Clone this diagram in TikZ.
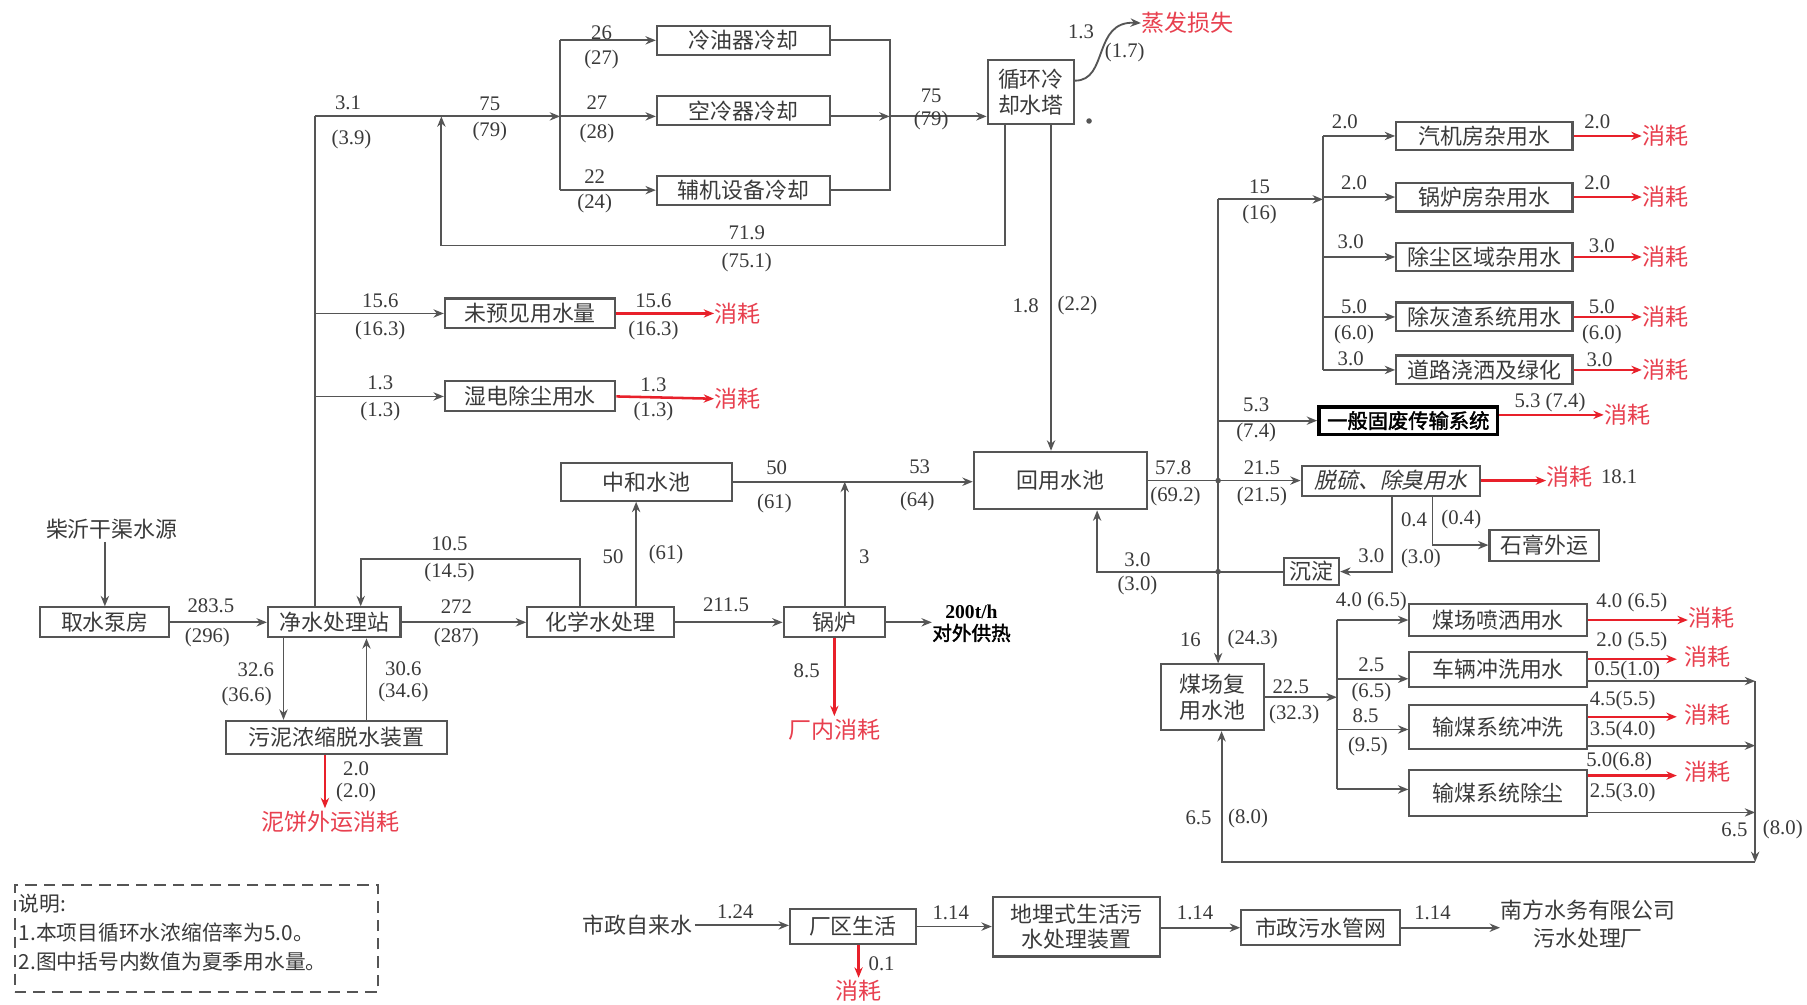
\documentclass[tikz,border=0pt]{standalone}
\usepackage{fontspec}
\setmainfont{Noto Sans CJK SC}
\newfontfamily\numf{Liberation Serif}
\newfontfamily\cjkit[FakeSlant=0.22]{Noto Sans CJK SC}
\newfontfamily\cjkbf[FakeBold=2]{Noto Sans CJK SC}
\usetikzlibrary{arrows.meta}
\definecolor{lncol}{HTML}{555555}
\definecolor{txcol}{HTML}{3A3A3A}
\definecolor{rdcol}{HTML}{E8202A}
\definecolor{rdtx}{HTML}{E8404F}
\newcounter{lbc}
\newcommand\lbl[2]{\stepcounter{lbc}\node[lab] (lb\thelbc) at (#1) {#2};}
\newcommand\bx[6][]{\node[box,minimum width=#4*0.5pt,minimum height=#5*0.5pt,#1] (#2) at (#3) {#6};}
\newcommand\xh[2]{\node[xhs] (#1) at (#2) {消耗};}
\begin{document}
\begin{tikzpicture}[x=0.5pt,y=-0.5pt,
  box/.style={draw=lncol,line width=0.9pt,text=txcol,font=\fontsize{9.5}{11}\selectfont,inner sep=0pt,align=center},
  lab/.style={text=txcol,font=\numf\fontsize{9}{9}\selectfont,inner sep=0pt},
  xhs/.style={text=rdtx,font=\fontsize{10}{11}\selectfont,inner sep=0pt},
  plain/.style={draw=lncol,line width=0.8pt},
  arr/.style={draw=lncol,line width=0.8pt,-{Stealth[length=4.5pt,width=3.6pt]}},
  rarr/.style={draw=rdcol,line width=1.1pt,-{Stealth[length=4.5pt,width=3.6pt]}},
  jdot/.style={circle,fill=lncol,inner sep=0pt,minimum size=2.4pt}]
\path[fill=white] (0,0) rectangle (1568,872);
\useasboundingbox (0,0) rectangle (1568,872);

% ---------- boxes ----------
\bx{cool1}{645,35}{150}{25}{冷油器冷却}
\bx{cool2}{645,96}{150}{25}{空冷器冷却}
\bx{cool3}{645,165}{150}{25}{辅机设备冷却}
\bx{tower}{894.5,80}{75}{56}{循环冷\\却水塔}
\bx{unf}{460,272}{148}{26}{未预见用水量}
\bx{wet}{460,344}{148}{26}{湿电除尘用水}
\bx{pump}{91,540}{112}{26}{取水泵房}
\bx{purif}{290,540}{115}{26}{净水处理站}
\bx{chem}{521,540}{127}{26}{化学水处理}
\bx{neut}{561,418}{148}{33}{中和水池}
\bx{boiler}{724,540}{88}{26}{锅炉}
\bx{sludge}{292,640}{192}{29}{污泥浓缩脱水装置}
\bx{reuse}{920,417}{150}{50}{回用水池}
\bx{r1}{1288,118}{153}{25}{汽机房杂用水}
\bx{r2}{1288,171}{153}{25}{锅炉房杂用水}
\bx{r3}{1288,223}{153}{25}{除尘区域杂用水}
\bx{r4}{1288,275}{153}{25}{除灰渣系统用水}
\bx{r5}{1288,321}{153}{25}{道路浇洒及绿化}
\bx[draw=black,line width=1.6pt,text=black,font=\cjkbf\fontsize{8.8}{10}\selectfont]{solid}{1222,365}{155}{24}{一般固废传输系统}
\bx[font=\cjkit\fontsize{9.5}{11}\selectfont]{desulf}{1207,417}{155}{26}{脱硫、除臭用水}
\bx{gyp}{1340,473}{95}{27}{石膏外运}
\bx{settle}{1138,496}{48}{24}{沉淀}
\bx{coal}{1052,605}{89}{57}{煤场复\\用水池}
\bx{c1}{1300,538}{154}{27}{煤场喷洒用水}
\bx{c2}{1300,581}{154}{31}{车辆冲洗用水}
\bx{c3}{1300,631}{154}{38}{输煤系统冲洗}
\bx{c4}{1300,688}{154}{40}{输煤系统除尘}
\bx{life}{740,804}{109}{31}{厂区生活}
\bx{buried}{934,804}{145}{52}{地埋式生活污\\水处理装置}
\bx{muni}{1146,805}{138}{30}{市政污水管网}

% ---------- free texts ----------
\node[text=txcol,font=\fontsize{9.5}{11}\selectfont,inner sep=1pt] (src) at (97,459) {柴沂干渠水源};
\node[text=black,align=center,inner sep=0pt,font=\fontsize{8.5}{9.5}\selectfont] (heat) at (843,541) {{\numf\bfseries 200t/h}\\{\cjkbf 对外供热}};
\node[text=rdtx,font=\fontsize{10}{11}\selectfont,anchor=west,inner sep=0pt] (evapt) at (990,20) {蒸发损失};
\node[text=rdtx,font=\fontsize{10}{11}\selectfont,inner sep=1pt] (bloss) at (724,633) {厂内消耗};
\node[text=rdtx,font=\fontsize{10}{11}\selectfont,inner sep=1pt] (sloss) at (287,713) {泥饼外运消耗};
\node[text=txcol,font=\fontsize{9.5}{11}\selectfont,inner sep=1pt] (tap) at (553,803) {市政自来水};
\node[text=txcol,font=\fontsize{9.5}{12}\selectfont,align=center,inner sep=0pt] (nf) at (1378,802) {南方水务有限公司\\污水处理厂};
\node[text=rdtx,font=\fontsize{10}{11}\selectfont,inner sep=1pt] (lloss) at (745,860) {消耗};
\xh{x1}{640,272}
\xh{x2}{640,346}
\xh{xr1}{1445,118}
\xh{xr2}{1445,171}
\xh{xr3}{1445,223}
\xh{xr4}{1445,275}
\xh{xr5}{1445,321}
\xh{xs}{1412,360}
\xh{xd}{1362,414}
\xh{xc1}{1485,536}
\xh{xc2}{1482,570}
\xh{xc3}{1482,620}
\xh{xc4}{1482,670}
\node[jdot] (dot) at (945,105) {};

% ---------- cooling circuit ----------
\coordinate (jtop) at (273,101);
\coordinate (bL) at (486,101);
\coordinate (bR) at (772,101);
\draw[plain] (purif.north -| jtop) -- (jtop);
\draw[arr] (jtop) -- (bL);
\draw[plain] (bL |- cool1.west) -- (bL |- cool3.west);
\draw[arr] (bL |- cool1.west) -- (cool1.west);
\draw[arr] (bL) -- (cool2.west |- bL);
\draw[arr] (bL |- cool3.west) -- (cool3.west);
\draw[plain] (cool1.east) -- (cool1.east -| bR) -- (cool3.east -| bR) -- (cool3.east);
\draw[arr] (cool2.east |- bR) -- (bR);
\draw[arr] (bR) -- (tower.west |- bR);
\draw[arr] ([yshift=5pt]tower.east) .. controls (962,70) and (948,18) .. (evapt.west);
\coordinate (rt1) at (872,213);
\coordinate (rt2) at (383,213);
\draw[arr] (tower.south -| rt1) -- (rt1) -- (rt2) -- (rt2 |- jtop);
\coordinate (x18) at (912,300);
\draw[arr] (tower.south -| x18) -- (reuse.north -| x18);
\draw[arr] (unf.west -| jtop) -- (unf.west);
\draw[arr] (wet.west -| jtop) -- (wet.west);
\draw[rarr] (unf.east) -- (x1.west);
\draw[rarr] (wet.east) -- (x2.west);

% ---------- main treatment line ----------
\draw[arr] (src.south -| pump.north) -- (pump.north);
\draw[arr] (pump.east) -- (purif.west);
\draw[arr] (purif.east) -- (chem.west);
\draw[arr] (chem.east) -- (boiler.west);
\draw[arr] (boiler.east) -- (heat.west |- boiler.east);
\coordinate (x552) at (552,480);
\draw[arr] (chem.north -| x552) -- (neut.south -| x552);
\coordinate (k1) at (503,485);
\coordinate (k2) at (313,485);
\draw[arr] (chem.north -| k1) -- (k1) -- (k2) -- (purif.north -| k2);
\draw[arr] (neut.east) -- (reuse.west |- neut.east);
\coordinate (x733) at (733,418);
\draw[arr] (boiler.north -| x733) -- (x733);
\draw[rarr] (boiler.south) -- (bloss.north);
\coordinate (x246) at (246,590);
\coordinate (x318) at (318,590);
\coordinate (x282) at (282,680);
\draw[arr] (purif.south -| x246) -- (sludge.north -| x246);
\draw[arr] (sludge.north -| x318) -- (purif.south -| x318);
\draw[rarr] (sludge.south -| x282) -- (sloss.north -| x282);

% ---------- reuse distribution ----------
\coordinate (jr) at (1057,417);
\coordinate (jv) at (1057,173);
\coordinate (b15) at (1148,173);
\draw[plain] (reuse.east |- jr) -- (jr);
\draw[arr] (jr) -- (desulf.west |- jr);
\draw[arr] (jv) -- (coal.north -| jv);
\draw[arr] (jv) -- (b15);
\draw[plain] (b15 |- r1.west) -- (b15 |- r5.west);
\foreach \k in {1,...,5}{
  \draw[arr] (b15 |- r\k.west) -- (r\k.west);
  \draw[rarr] (r\k.east) -- (xr\k.west);
}
\draw[arr] (solid.west -| jv) -- (solid.west);
\draw[rarr] (solid.east |- xs.west) -- (xs.west);
\draw[rarr] (desulf.east) -- (desulf.east -| xd.west);
\coordinate (d1) at (1208,496);
\coordinate (d2) at (1243,473);
\draw[arr] (desulf.south -| d1) -- (d1) -- (settle.east |- d1);
\draw[arr] (desulf.south -| d2) -- (d2) -- (gyp.west |- d2);
\coordinate (s1) at (952,496);
\draw[arr] (settle.west) -- (s1) -- (reuse.south -| s1);
\node[jdot] (jd1) at (jr) {};
\node[jdot] (jd2) at (1057,496) {};

% ---------- coal yard ----------
\coordinate (cb) at (1160,605);
\coordinate (cb2) at (1160,589);
\coordinate (cb3) at (1160,633);
\coordinate (cb4) at (1160,685);
\draw[arr] (coal.east |- cb) -- (cb);
\draw[plain] (cb |- c1.west) -- (cb4);
\draw[arr] (cb |- c1.west) -- (c1.west);
\draw[arr] (cb2) -- (c2.west |- cb2);
\draw[arr] (cb3) -- (c3.west |- cb3);
\draw[arr] (cb4) -- (c4.west |- cb4);
\draw[rarr] (c1.east) -- (c1.east -| xc1.west);
\coordinate (e2r) at (1455,572);
\coordinate (e3r) at (1455,622);
\coordinate (e4r) at (1455,673);
\draw[rarr] (c2.east |- e2r) -- (e2r);
\draw[rarr] (c3.east |- e3r) -- (e3r);
\draw[rarr] (c4.east |- e4r) -- (e4r);
\coordinate (e2b) at (1523,591);
\coordinate (e3b) at (1523,647);
\coordinate (e4b) at (1523,705);
\draw[arr] (c2.east |- e2b) -- (e2b);
\draw[arr] (c3.east |- e3b) -- (e3b);
\draw[arr] (c4.east |- e4b) -- (e4b);
\coordinate (eB) at (1523,748);
\coordinate (eL) at (1060,748);
\draw[arr] (e2b) -- (eB);
\draw[arr] (eB) -- (eL) -- (coal.south -| eL);

% ---------- domestic line ----------
\draw[arr] (tap.east) -- (life.west |- tap.east);
\draw[arr] (life.east) -- (buried.west |- life.east);
\draw[arr] (buried.east |- muni.west) -- (muni.west);
\draw[arr] (muni.east) -- (nf.west |- muni.east);
\draw[rarr] (life.south -| lloss.north) -- (lloss.north);

% ---------- note ----------
\node[draw=lncol,dashed,line width=0.9pt,dash pattern=on 5pt off 3pt,minimum width=315*0.5pt,minimum height=93*0.5pt,anchor=north west,inner sep=0pt] (note) at (12,767) {};
\node[anchor=north west,align=left,text=txcol,font=\fontsize{9}{12.6}\selectfont,inner sep=0pt] (notet) at (16,775) {说明:\\1.本项目循环水浓缩倍率为5.0。\\2.图中括号内数值为夏季用水量。};

% ---------- labels ----------
\lbl{522,28}{26} \lbl{522,52}{(27)}
\lbl{518,89}{27} \lbl{518,116}{(28)}
\lbl{516,153}{22} \lbl{516,177}{(24)}
\lbl{302,89}{3.1} \lbl{305,121}{(3.9)}
\lbl{425,90}{75} \lbl{425,114}{(79)}
\lbl{808,83}{75} \lbl{808,105}{(79)}
\lbl{938,28}{1.3} \lbl{976,46}{(1.7)}
\lbl{648,202}{71.9} \lbl{648,228}{(75.1)}
\lbl{890,265}{1.8} \lbl{935,265}{(2.2)}
\lbl{330,261}{15.6} \lbl{330,287}{(16.3)}
\lbl{567,261}{15.6} \lbl{567,287}{(16.3)}
\lbl{330,332}{1.3} \lbl{330,357}{(1.3)}
\lbl{567,334}{1.3} \lbl{567,357}{(1.3)}
\lbl{390,472}{10.5} \lbl{390,497}{(14.5)}
\lbl{532,483}{50} \lbl{578,481}{(61)}
\lbl{674,406}{50} \lbl{672,437}{(61)}
\lbl{798,405}{53} \lbl{796,435}{(64)}
\lbl{750,483}{3}
\lbl{183,526}{283.5} \lbl{180,553}{(296)}
\lbl{396,526}{272} \lbl{396,553}{(287)}
\lbl{630,525}{211.5}
\lbl{700,582}{8.5}
\lbl{222,581}{32.6} \lbl{214,604}{(36.6)}
\lbl{350,580}{30.6} \lbl{350,601}{(34.6)}
\lbl{309,667}{2.0} \lbl{309,688}{(2.0)}
\lbl{987,486}{3.0} \lbl{987,508}{(3.0)}
\lbl{1018,406}{57.8} \lbl{1020,431}{(69.2)}
\lbl{1093,162}{15} \lbl{1093,186}{(16)}
\lbl{1167,106}{2.0} \lbl{1175,159}{2.0} \lbl{1172,210}{3.0} \lbl{1175,266}{5.0} \lbl{1175,290}{(6.0)} \lbl{1172,311}{3.0}
\lbl{1386,106}{2.0} \lbl{1386,159}{2.0} \lbl{1390,213}{3.0} \lbl{1390,266}{5.0} \lbl{1390,290}{(6.0)} \lbl{1388,312}{3.0}
\lbl{1090,351}{5.3} \lbl{1090,375}{(7.4)} \lbl{1345,349}{5.3 (7.4)}
\lbl{1095,406}{21.5} \lbl{1095,431}{(21.5)} \lbl{1405,414}{18.1}
\lbl{1227,451}{0.4} \lbl{1268,451}{(0.4)}
\lbl{1190,482}{3.0} \lbl{1233,485}{(3.0)}
\lbl{1033,555}{16} \lbl{1087,555}{(24.3)}
\lbl{1120,596}{22.5} \lbl{1123,620}{(32.3)}
\lbl{1190,522}{4.0 (6.5)}
\lbl{1190,577}{2.5} \lbl{1190,601}{(6.5)}
\lbl{1185,621}{8.5} \lbl{1187,648}{(9.5)}
\lbl{1416,523}{4.0 (6.5)} \lbl{1416,557}{2.0 (5.5)} \lbl{1412,582}{0.5(1.0)}
\lbl{1408,608}{4.5(5.5)} \lbl{1408,634}{3.5(4.0)}
\lbl{1405,661}{5.0(6.8)} \lbl{1408,688}{2.5(3.0)}
\lbl{1505,720}{6.5} \lbl{1547,720}{(8.0)}
\lbl{1040,710}{6.5} \lbl{1083,710}{(8.0)}
\lbl{638,791}{1.24} \lbl{765,836}{0.1}
\lbl{825,792}{1.14} \lbl{1037,792}{1.14} \lbl{1243,792}{1.14}
\end{tikzpicture}
\end{document}
